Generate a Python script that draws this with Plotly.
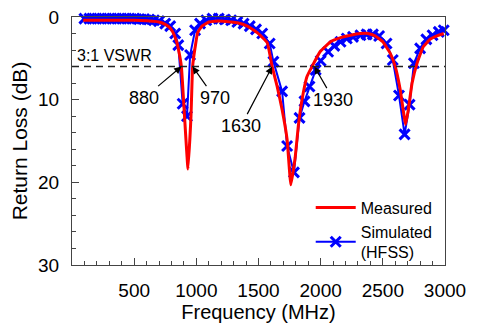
import plotly.graph_objects as go

# Measured return loss (dB) vs frequency (MHz)
meas_freq = [90, 200, 300, 400, 500, 600, 650, 700, 750, 780, 810, 840, 860, 880, 905, 933,
             957, 970, 990, 1010, 1045, 1100, 1150, 1215, 1280, 1330, 1410, 1490, 1570, 1610,
             1650, 1690, 1730, 1760, 1795, 1820, 1850, 1890, 1930, 1995, 2080, 2160, 2240,
             2320, 2380, 2440, 2500, 2560, 2600, 2640, 2683, 2705, 2735, 2775, 2825, 2880,
             2950, 2990]
meas_rl = [0.4, 0.4, 0.4, 0.4, 0.4, 0.45, 0.5, 0.6, 0.9, 1.2, 1.8, 2.9, 4.2, 6.0, 12.0, 18.4,
           12.0, 6.0, 3.7, 1.9, 1.1, 0.6, 0.5, 0.5, 0.6, 0.7, 1.1, 1.9, 3.1, 6.0,
           8.4, 11.2, 14.8, 20.3, 17.0, 13.2, 10.0, 7.2, 6.0, 4.2, 3.0, 2.5, 2.2,
           2.0, 2.0, 2.3, 3.0, 4.4, 6.0, 8.8, 13.0, 11.2, 8.0, 5.6, 3.6, 2.7,
           2.2, 2.0]

# Simulated (HFSS) return loss
sim_freq = [100, 140, 180, 220, 260, 300, 340, 380, 420, 460, 500, 540, 580, 620, 660,
            700, 750, 790, 830, 855, 890, 925, 950, 990, 1030, 1080, 1130, 1180, 1230,
            1280, 1330, 1380, 1430, 1480, 1530, 1590, 1620, 1690, 1730, 1785, 1830, 1870,
            1910, 1960, 2000, 2060, 2110, 2160, 2210, 2260, 2320, 2370, 2420, 2470, 2530,
            2580, 2630, 2675, 2715, 2750, 2800, 2850, 2900, 2950, 2990]
sim_rl = [0.2, 0.2, 0.2, 0.2, 0.2, 0.2, 0.2, 0.2, 0.2, 0.2, 0.2, 0.25, 0.25, 0.3, 0.4,
          0.5, 0.8, 1.1, 2.0, 3.4, 10.5, 12.0, 4.6, 1.6, 0.8, 0.4, 0.2, 0.2, 0.3,
          0.4, 0.6, 0.8, 1.1, 1.5, 2.0, 3.2, 5.4, 9.0, 15.6, 18.8, 12.2, 10.2,
          8.4, 6.4, 5.3, 4.2, 3.5, 3.0, 2.6, 2.4, 2.2, 2.1, 2.1, 2.3, 3.2,
          5.2, 9.5, 14.2, 10.6, 5.6, 3.8, 2.7, 2.2, 1.8, 1.6]

vswr_level = 6.0
marks_x = [880, 970, 1610, 1950]
marks_label = ["880", "970", "1630", "1930"]
marks_offset = [(-37, 31), (22, 31), (-31, 59), (19, 33)]

x_ticks = [500, 1000, 1500, 2000, 2500, 3000]
y_ticks = [0, 10, 20, 30]

FONT = "Liberation Sans, Arial, sans-serif"

fig = go.Figure()
fig.add_trace(go.Scatter(
    x=sim_freq, y=sim_rl, mode="lines+markers", name="Simulated<br>(HFSS)",
    line=dict(color="#0000ff", width=2),
    marker=dict(symbol="x-thin", size=10, line=dict(color="#0000ff", width=3), color="#0000ff"),
    cliponaxis=False,
))
fig.add_trace(go.Scatter(
    x=meas_freq, y=meas_rl, mode="lines", name="Measured",
    line=dict(color="#ff0000", width=3, shape="spline", smoothing=0.3),
))

fig.add_shape(type="line", xref="x", yref="y", x0=0, x1=3000, y0=vswr_level, y1=vswr_level,
              line=dict(color="#222222", width=1.5, dash="7px,5px"), layer="above")

fig.add_annotation(x=0, y=vswr_level, xref="x", yref="y", text="3:1 VSWR", showarrow=False,
                   xanchor="left", yanchor="bottom", xshift=3, yshift=1,
                   font=dict(family=FONT, size=16, color="black"))

for fx, lab, (ax, ay) in zip(marks_x, marks_label, marks_offset):
    fig.add_annotation(x=fx, y=vswr_level, xref="x", yref="y", text=lab, showarrow=True,
                       ax=ax, ay=ay, arrowhead=2, arrowsize=1.2, arrowwidth=1.2,
                       arrowcolor="black", font=dict(family=FONT, size=18, color="black"))

axis_common = dict(showline=True, linecolor="#444444", linewidth=1.2, mirror=True,
                   ticks="inside", tickcolor="#444444", showgrid=False, zeroline=False,
                   automargin=False, ticklabeloverflow="allow",
                   tickfont=dict(family=FONT, size=19, color="black"))

fig.update_xaxes(range=[0, 3000], tickvals=x_ticks, ticklen=7,
                 minor=dict(dtick=100, ticklen=4, ticks="inside", tickcolor="#444444"),
                 title=dict(text="Frequency (MHz)", font=dict(family=FONT, size=20, color="black"),
                            standoff=0),
                 ticklabelstandoff=8, **axis_common)
fig.update_yaxes(range=[30, 0], tickvals=y_ticks, ticklen=7,
                 minor=dict(dtick=2, ticklen=4, ticks="inside", tickcolor="#444444"),
                 title=dict(text="Return Loss (dB)", font=dict(family=FONT, size=21, color="black"),
                            standoff=6),
                 ticklabelstandoff=8, **axis_common)

# the page body adds an 8px offset, so the figure is sized to fit the 480x329 window
fig.update_layout(
    width=472, height=321,
    margin=dict(l=64, r=35, t=9, b=64, autoexpand=False),
    paper_bgcolor="white", plot_bgcolor="white",
    showlegend=True,
    legend=dict(x=0.64, y=0.30, xanchor="left", yanchor="top", traceorder="reversed",
                bgcolor="rgba(0,0,0,0)", font=dict(family=FONT, size=16, color="black"),
                itemwidth=40, tracegroupgap=4),
)

fig.write_html("out.html")
